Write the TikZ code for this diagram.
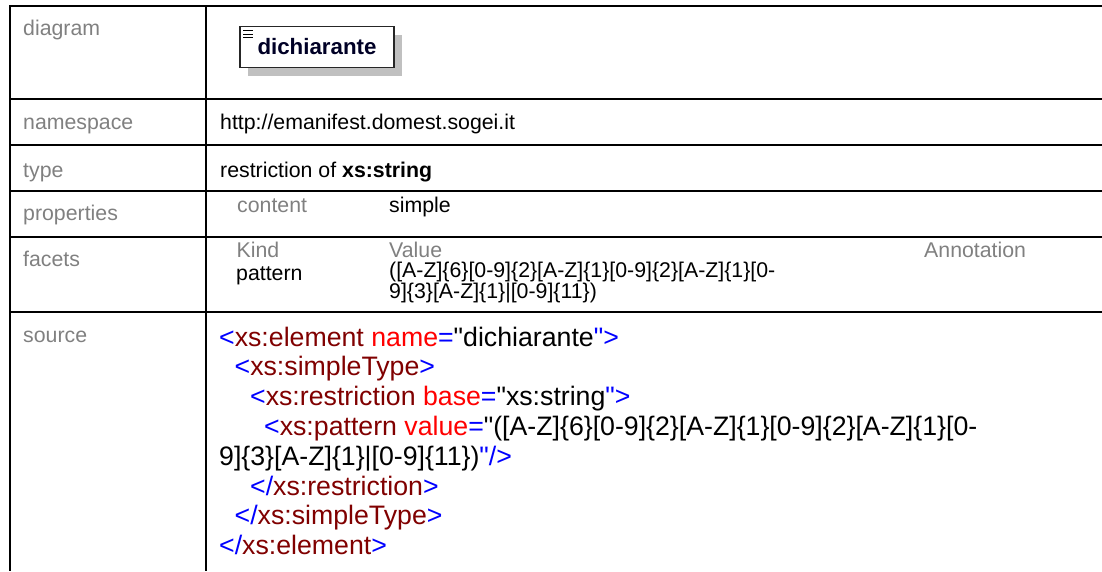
\documentclass[tikz,border=0pt]{standalone}
\usepackage{fontspec}
\setmainfont{Liberation Sans}[Ligatures=TeXOff]
\usetikzlibrary{shadows}
\definecolor{lblgray}{RGB}{128,128,128}
\definecolor{tagblue}{RGB}{0,0,255}
\definecolor{tagbrown}{RGB}{128,0,0}
\definecolor{attred}{RGB}{255,0,0}
\definecolor{boxgray}{RGB}{192,192,192}
\newcommand{\srcB}[1]{\textcolor{tagblue}{#1}}
\newcommand{\srcM}[1]{\textcolor{tagbrown}{#1}}
\newcommand{\srcR}[1]{\textcolor{attred}{#1}}
\begin{document}
\begin{tikzpicture}[x=1pt,y=-1pt,
	rule/.style={line width=2pt},
	lbl/.style={anchor=base west, inner sep=0pt, text=lblgray, font=\fontsize{21.3}{25}\selectfont},
	val/.style={anchor=base west, inner sep=0pt, font=\fontsize{21.3}{25}\selectfont},
	src/.style={anchor=base west, inner sep=0pt, font=\fontsize{26.7}{30}\selectfont}]
	\useasboundingbox (0,0) rectangle (1102,571);
	% table rules
	\foreach \y in {6,99,145,191,237,312}
		\draw[rule] (10,\y) -- (1102,\y);
	\draw[rule] (10,5) -- (10,571);
	\draw[rule] (206,5) -- (206,571);
	% left column
	\node (Ldia) at (23, 35)	[lbl]	{diagram};
	\node (Lns) at (23,129)	[lbl]	{namespace};
	\node (Lty) at (23,177)	[lbl]	{type};
	\node (Lpr) at (23,220)	[lbl]	{properties};
	\node (Lfa) at (23,266)	[lbl]	{facets};
	\node (Lso) at (23,342)	[lbl]	{source};
	% diagram
	\node (dich) at (317,47)	[draw=black!85, line width=1.5pt, fill=white, minimum width=154, minimum height=41, drop shadow={shadow xshift=8pt, shadow yshift=-8pt, fill=boxgray, opacity=1}, text=black!85!blue, font=\bfseries\fontsize{22.3}{25}\selectfont]	{dichiarante};
	\foreach \d in {5,8.5,12}
		\draw[line width=1.3pt] ([shift={(4,\d)}]dich.north west) -- ++(10,0);
	% values
	\node (Vns) at (220,129)	[val]	{http://emanifest.domest.sogei.it};
	\node (Vty) at (220,177)	[val]	{restriction of \textbf{xs:string}};
	\node (Pc) at (237,212)	[lbl]	{content};
	\node (Ps) at (389,212)	[val]	{simple};
	\node (Fk) at (236.5,257)	[lbl]	{Kind};
	\node (Fv) at (389,257)	[lbl]	{Value};
	\node (Fa) at (924,257)	[lbl]	{Annotation};
	\node (Fp) at (236,280)	[val]	{pattern};
	\node (Fval) at (389,298.5)	[val, align=left, font=\fontsize{21.3}{18.5}\selectfont]	{([A-Z]\{6\}[0-9]\{2\}[A-Z]\{1\}[0-9]\{2\}[A-Z]\{1\}[0-\\9]\{3\}[A-Z]\{1\}|[0-9]\{11\})};
	% source
	\node (S1) at (219,346)	[src]	{\srcB{<}\srcM{xs:element} \srcR{name}\srcB{=}"dichiarante\srcB{">}};
	\node (S2) at (234.5,375.8)	[src]	{\srcB{<}\srcM{xs:simpleType}\srcB{>}};
	\node (S3) at (250,405.6)	[src]	{\srcB{<}\srcM{xs:restriction} \srcR{base}\srcB{=}"xs:string\srcB{">}};
	\node (S4) at (264,435.4)	[src]	{\srcB{<}\srcM{xs:pattern} \srcR{value}\srcB{=}"([A-Z]\{6\}[0-9]\{2\}[A-Z]\{1\}[0-9]\{2\}[A-Z]\{1\}[0-};
	\node (S5) at (219,465.2)	[src]	{9]\{3\}[A-Z]\{1\}|[0-9]\{11\})\srcB{"/>}};
	\node (S6) at (250,495)	[src]	{\srcB{</}\srcM{xs:restriction}\srcB{>}};
	\node (S7) at (234.5,524.8)	[src]	{\srcB{</}\srcM{xs:simpleType}\srcB{>}};
	\node (S8) at (219,554.6)	[src]	{\srcB{</}\srcM{xs:element}\srcB{>}};
\end{tikzpicture}
\end{document}
